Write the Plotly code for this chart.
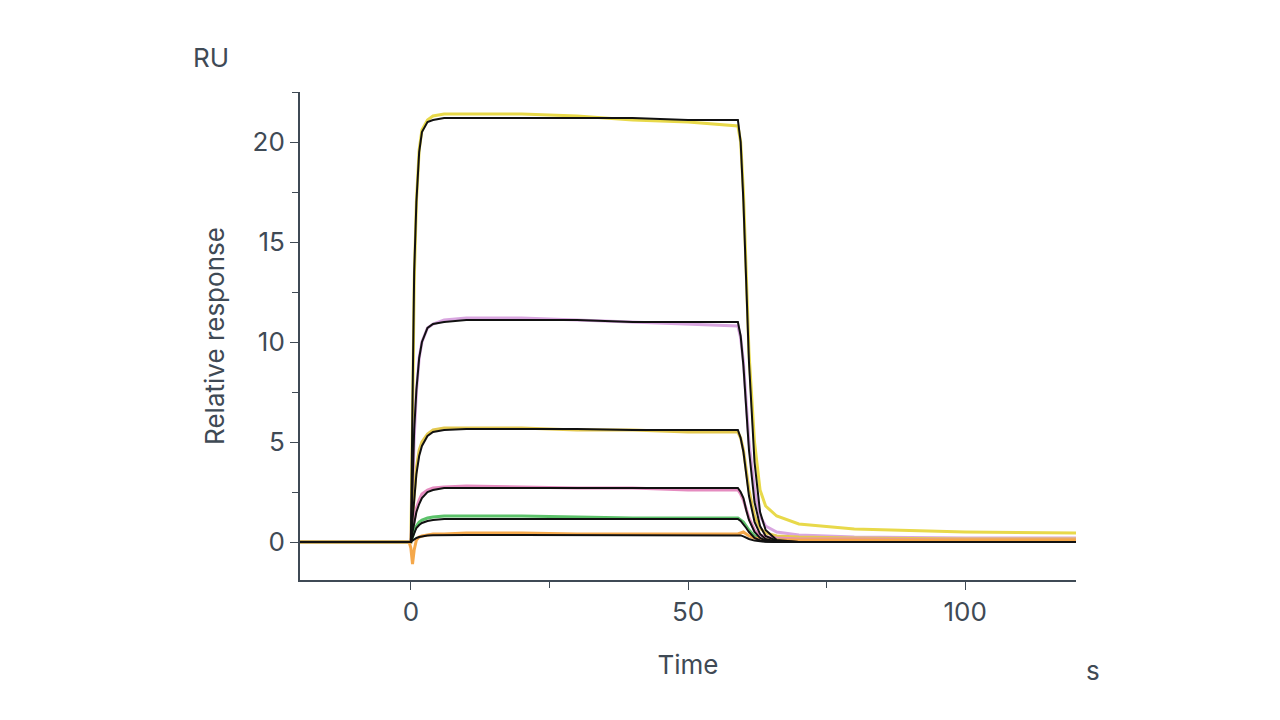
import plotly.graph_objects as go

# time points (s)
t = [-20, -0.3, 0, 0.3, 0.6, 1, 1.5, 2, 3, 4, 6, 10, 20, 30, 40, 50, 59, 59.5, 60, 60.5, 61, 62, 63, 64, 66, 70, 80, 100, 120]

# measured curves (coloured)
d1 = [0, 0, 0, 6, 13, 17, 19.6, 20.6, 21.1, 21.3, 21.4, 21.4, 21.4, 21.3, 21.1, 21.0, 20.8, 20.0, 17.5, 13.5, 9.5, 5.0, 2.6, 1.8, 1.3, 0.9, 0.65, 0.5, 0.45]
d2 = [0, 0, 0, 2.5, 5.2, 7.5, 9.2, 10.0, 10.7, 10.9, 11.1, 11.2, 11.2, 11.1, 11.0, 10.9, 10.8, 10.2, 9.0, 7.0, 5.0, 2.6, 1.3, 0.8, 0.5, 0.35, 0.25, 0.2, 0.2]
d3 = [0, 0, 0, 1.2, 2.5, 3.7, 4.6, 5.0, 5.4, 5.6, 5.7, 5.7, 5.7, 5.6, 5.6, 5.5, 5.5, 5.2, 4.6, 3.6, 2.6, 1.3, 0.7, 0.45, 0.3, 0.25, 0.2, 0.15, 0.15]
d4 = [0, 0, 0, 0.5, 1.1, 1.7, 2.1, 2.4, 2.6, 2.7, 2.75, 2.8, 2.75, 2.7, 2.7, 2.6, 2.6, 2.4, 2.1, 1.7, 1.2, 0.6, 0.35, 0.25, 0.2, 0.15, 0.15, 0.1, 0.1]
d5 = [0, 0, 0, 0.25, 0.55, 0.8, 1.0, 1.1, 1.2, 1.25, 1.3, 1.3, 1.3, 1.25, 1.2, 1.2, 1.2, 1.1, 1.0, 0.8, 0.6, 0.3, 0.15, 0.1, 0.1, 0.05, 0.05, 0.05, 0.05]
d6 = [0, 0, -0.3, -1.1, -0.4, 0.1, 0.25, 0.3, 0.35, 0.4, 0.4, 0.45, 0.45, 0.4, 0.4, 0.4, 0.4, 0.45, 0.5, 0.4, 0.3, 0.2, 0.15, 0.1, 0.1, 0.1, 0.1, 0.1, 0.1]
data_series = [d1, d2, d3, d4, d5, d6]
data_colors = ["#e8d94a", "#d9a6e0", "#e3c84f", "#e58cc0", "#5cc26a", "#f5a84a"]

# fitted curves (black)
f1 = [0, 0, 0, 7, 13.5, 17, 19.5, 20.5, 21.0, 21.1, 21.2, 21.2, 21.2, 21.2, 21.2, 21.1, 21.1, 20.0, 17.0, 13.0, 9.0, 4.0, 1.5, 0.6, 0.1, 0, 0, 0, 0]
f2 = [0, 0, 0, 2.8, 5.6, 7.6, 9.2, 10.0, 10.7, 10.9, 11.0, 11.1, 11.1, 11.1, 11.0, 11.0, 11.0, 10.3, 8.8, 6.7, 4.6, 2.0, 0.8, 0.3, 0.05, 0, 0, 0, 0]
f3 = [0, 0, 0, 1.1, 2.3, 3.4, 4.3, 4.8, 5.3, 5.5, 5.6, 5.65, 5.65, 5.65, 5.6, 5.6, 5.6, 5.2, 4.5, 3.4, 2.3, 1.0, 0.4, 0.15, 0.02, 0, 0, 0, 0]
f4 = [0, 0, 0, 0.5, 1.0, 1.5, 1.9, 2.2, 2.5, 2.6, 2.7, 2.7, 2.7, 2.7, 2.7, 2.7, 2.7, 2.5, 2.2, 1.6, 1.1, 0.5, 0.2, 0.07, 0.01, 0, 0, 0, 0]
f5 = [0, 0, 0, 0.22, 0.45, 0.7, 0.85, 0.95, 1.05, 1.1, 1.15, 1.15, 1.15, 1.15, 1.15, 1.15, 1.15, 1.05, 0.9, 0.7, 0.5, 0.2, 0.08, 0.03, 0, 0, 0, 0, 0]
f6 = [0, 0, 0, 0.07, 0.14, 0.2, 0.25, 0.28, 0.32, 0.34, 0.35, 0.35, 0.35, 0.35, 0.35, 0.35, 0.35, 0.33, 0.28, 0.21, 0.15, 0.07, 0.03, 0.01, 0, 0, 0, 0, 0]
fit_series = [f1, f2, f3, f4, f5, f6]

fig = go.Figure()
for vals, col in zip(data_series, data_colors):
    fig.add_trace(go.Scatter(x=t, y=vals, mode="lines", line=dict(color=col, width=3)))
for vals in fit_series:
    fig.add_trace(go.Scatter(x=t, y=vals, mode="lines", line=dict(color="#111111", width=2)))

axis_font = dict(family="Inter, Roboto, sans-serif", size=26, color="#3f4a55")
fig.update_layout(
    width=1280, height=720, showlegend=False,
    paper_bgcolor="white", plot_bgcolor="white",
    margin=dict(l=292, r=212, t=84, b=148),
    font=axis_font,
)
fig.update_xaxes(range=[-20, 120], tickvals=[0, 50, 100], showgrid=False, zeroline=False,
                 showline=True, linecolor="#3f4a55", linewidth=2,
                 ticks="outside", ticklen=8, tickcolor="#3f4a55",
                 minor=dict(dtick=25, ticks="outside", ticklen=6, tickcolor="#3f4a55"),
                 title=dict(text="Time", font=axis_font, standoff=30))
fig.update_yaxes(range=[-1.9, 22.5], tickvals=[0, 5, 10, 15, 20], showgrid=False, zeroline=False,
                 showline=True, linecolor="#3f4a55", linewidth=2,
                 ticks="outside", ticklen=8, tickcolor="#3f4a55",
                 minor=dict(dtick=2.5, ticks="outside", ticklen=6, tickcolor="#3f4a55"),
                 title=dict(text="Relative response", font=axis_font, standoff=20))
fig.add_annotation(text="RU", xref="paper", yref="paper", x=-0.14, y=1.035, xanchor="left", yanchor="bottom",
                   showarrow=False, font=axis_font)
fig.add_annotation(text="s", xref="paper", yref="paper", x=1.01, y=-0.15, xanchor="left", yanchor="top",
                   showarrow=False, font=axis_font)
fig.write_html("out.html")
